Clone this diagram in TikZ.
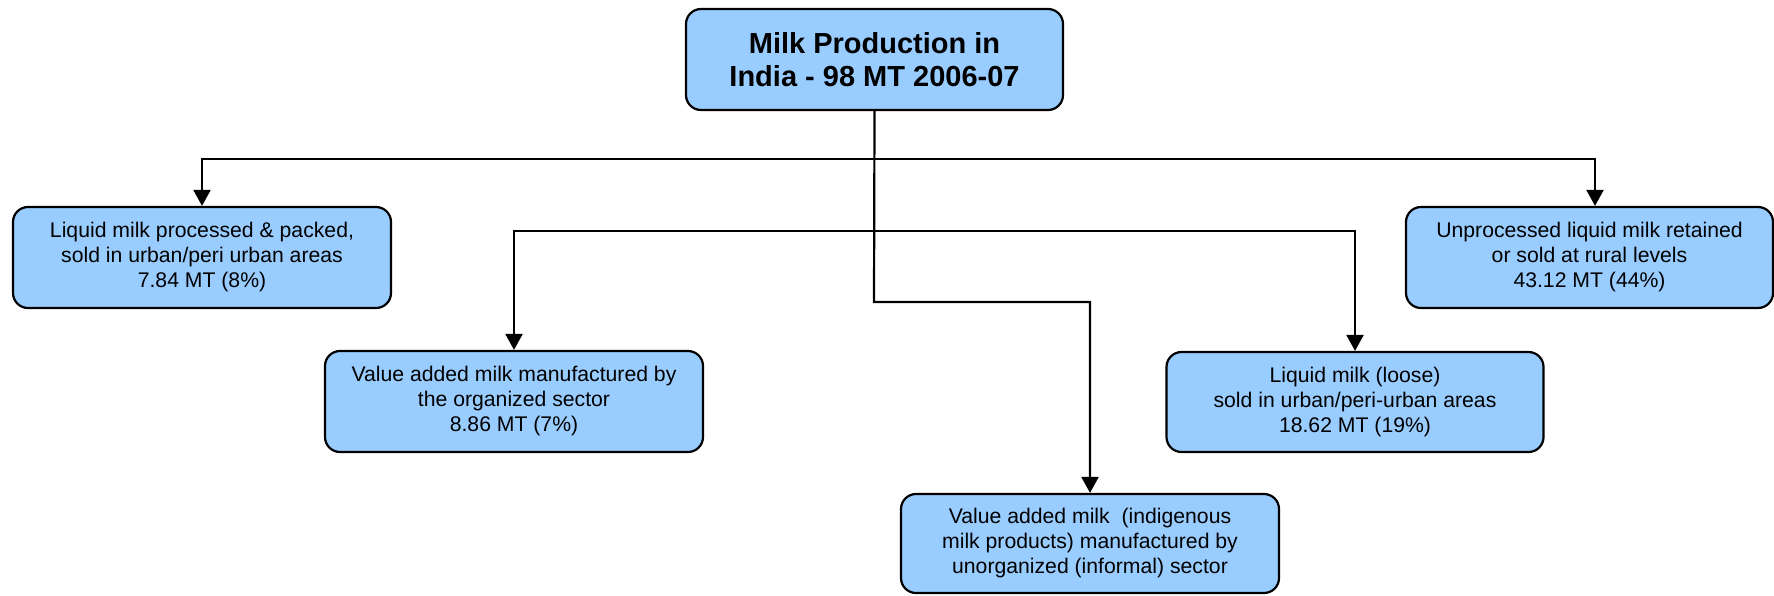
\documentclass[tikz,border=0pt]{standalone}
\usepackage{fontspec}
\setmainfont{Liberation Sans}
\usetikzlibrary{arrows.meta,calc}
\definecolor{boxblue}{RGB}{153,204,255}
\begin{document}
\begin{tikzpicture}[x=1pt,y=-1pt,
  box/.style={draw=black, line width=2.2pt, fill=boxblue, rounded corners=15pt,
    align=center, minimum width=378pt, minimum height=101pt, inner sep=0pt,
    font=\fontsize{21.2}{25}\selectfont},
  titlebox/.style={box, font=\fontsize{29}{32.5}\selectfont\bfseries},
  conn/.style={line width=2.2pt, -{Triangle[length=16pt,width=17pt]}}]
\useasboundingbox (0,0) rectangle (1774,595);

\node[titlebox, minimum width=377pt] (top) at (874.5,59.5) {Milk Production in\\India - 98 MT 2006-07};
\node[box] (b1) at (202,257.5) {Liquid milk processed \& packed,\\sold in urban/peri urban areas\\7.84 MT (8\%)};
\node[box, minimum width=367pt] (b6) at (1589.5,257.5) {Unprocessed liquid milk retained\\or sold at rural levels\\43.12 MT (44\%)};
\node[box] (b2) at (514,401.5) {Value added milk manufactured by\\the organized sector\\8.86 MT (7\%)};
\node[box, minimum width=377pt, minimum height=100pt] (b4) at (1355,402) {Liquid milk (loose)\\sold in urban/peri-urban areas\\18.62 MT (19\%)};
\node[box, minimum height=99pt] (b5) at (1090,543.5) {Value added milk\ \ (indigenous\\milk products) manufactured by\\unorganized (informal) sector};

\coordinate (h1) at (874,159);
\coordinate (h2) at (874,231);
\coordinate (h3) at (874,302);
\coordinate (b6in) at ($(b6.north)+(5.5,0)$);

\draw[conn] (top.south) -- (h3) -| (b5.north);
\draw[conn] (h1) -| (b1.north);
\draw[conn] (h1) -| (b6in);
\draw[conn] (h2) -| (b2.north);
\draw[conn] (h2) -| (b4.north);
\end{tikzpicture}
\end{document}
